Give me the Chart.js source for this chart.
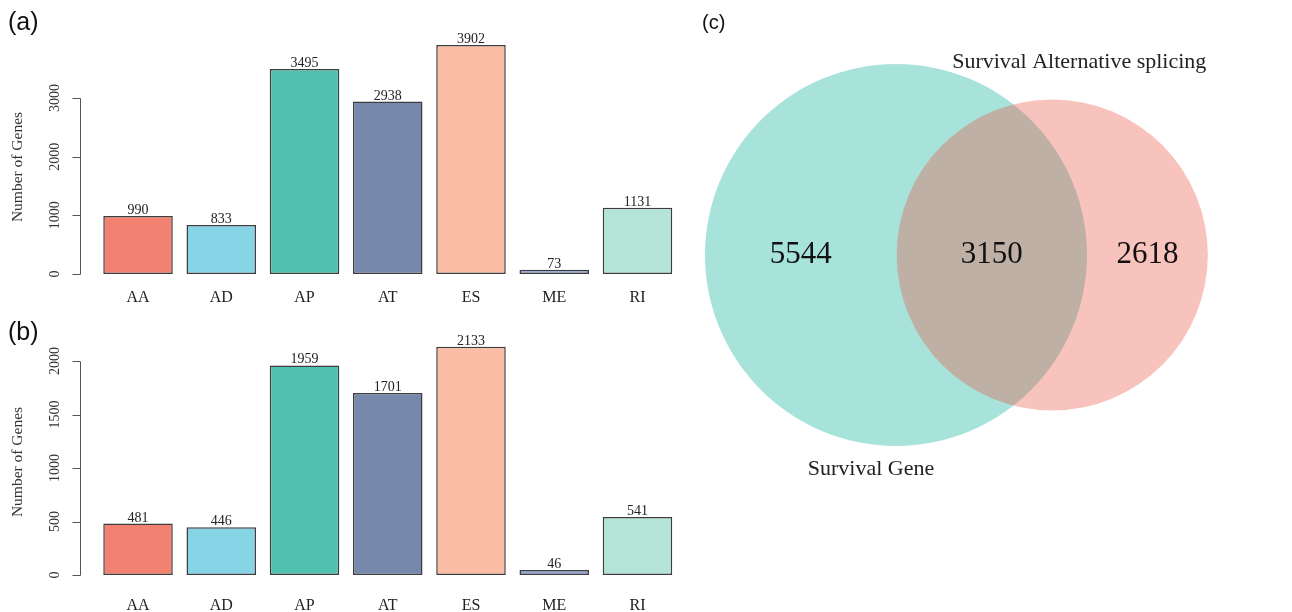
<!DOCTYPE html>
<html>
<head>
<meta charset="utf-8">
<script src="https://cdn.jsdelivr.net/npm/chart.js@4.4.1/dist/chart.umd.min.js"></script>
<style>
  body { margin: 0; background: #fff; width: 1292px; height: 612px; position: relative; overflow: hidden; }
  canvas { position: absolute; }
  .tag { position: absolute; font-family: "Liberation Sans", Arial, sans-serif; color: #111; line-height: 1; }
</style>
</head>
<body>

<canvas id="chartA" width="690" height="306" style="left:0;top:0"></canvas>
<canvas id="chartB" width="690" height="306" style="left:0;top:306px"></canvas>
<canvas id="chartC" width="602" height="612" style="left:690px;top:0"></canvas>

<div class="tag" style="left:8px;top:9px;font-size:25px">(a)</div>
<div class="tag" style="left:8px;top:319px;font-size:25px">(b)</div>
<div class="tag" style="left:702px;top:12px;font-size:20px">(c)</div>

<script>

// data
var categories = ['AA', 'AD', 'AP', 'AT', 'ES', 'ME', 'RI']
var countsA = [990, 833, 3495, 2938, 3902, 73, 1131]
var countsB = [481, 446, 1959, 1701, 2133, 46, 541]
var yTicksA = [0, 1000, 2000, 3000]
var yTicksB = [0, 500, 1000, 1500, 2000]
var barColors = ['#f38172', '#87d4e6', '#4fc1ae', '#7689ad', '#fbbda6', '#8d9fd1', '#b4e4d7']

var vennNames = ['Survival Gene', 'Survival Alternative splicing']
var vennOnly = [5544, 2618]
var vennBoth = 3150

var serif = '"Liberation Serif", "Times New Roman", serif'

// R style y axis: line only over the tick range, rotated labels
function rAxis(ticks, titleY) {
    return {
        id: 'rAxis',
        afterDraw: function (chart) {
            var ctx = chart.ctx
            var y = chart.scales.y
            var ax = 80.5
            ctx.save()
            ctx.strokeStyle = '#555'
            ctx.lineWidth = 1
            ctx.beginPath()
            ctx.moveTo(ax, Math.round(y.getPixelForValue(ticks[0])) + 0.5)
            ctx.lineTo(ax, Math.round(y.getPixelForValue(ticks[ticks.length - 1])) + 0.5)
            ticks.forEach(function (t) {
                var py = Math.round(y.getPixelForValue(t)) + 0.5
                ctx.moveTo(ax, py)
                ctx.lineTo(ax - 8, py)
            })
            ctx.stroke()
            ctx.fillStyle = '#333'
            ctx.font = '14px ' + serif
            ctx.textAlign = 'center'
            ctx.textBaseline = 'middle'
            ticks.forEach(function (t) {
                ctx.save()
                ctx.translate(55, y.getPixelForValue(t))
                ctx.rotate(-Math.PI / 2)
                ctx.fillText(String(t), 0, 0)
                ctx.restore()
            })
            ctx.font = '15.5px ' + serif
            ctx.translate(18, titleY)
            ctx.rotate(-Math.PI / 2)
            ctx.fillText('Number of Genes', 0, 0)
            ctx.restore()
        }
    }
}

var valueLabels = {
    id: 'valueLabels',
    afterDatasetsDraw: function (chart) {
        var ctx = chart.ctx
        var ds = chart.data.datasets[0]
        ctx.save()
        ctx.fillStyle = '#222'
        ctx.font = '14px ' + serif
        ctx.textAlign = 'center'
        ctx.textBaseline = 'alphabetic'
        chart.getDatasetMeta(0).data.forEach(function (bar, i) {
            ctx.fillText(String(ds.data[i]), bar.x, bar.y - 2)
        })
        ctx.restore()
    }
}

function barChart(id, counts, ticks, yMax, padTop, axisH, labelPad, titleY) {
    return new Chart(document.getElementById(id), {
        type: 'bar',
        data: {
            labels: categories,
            datasets: [{
                data: counts,
                backgroundColor: barColors,
                borderColor: 'rgba(40,40,40,0.9)',
                borderWidth: 1.5,
                borderSkipped: false,
                categoryPercentage: 1,
                barPercentage: 0.835
            }]
        },
        options: {
            responsive: false,
            animation: false,
            events: [],
            layout: { padding: { left: 96.4, right: 10.9, top: padTop, bottom: 0 } },
            plugins: { legend: { display: false }, tooltip: { enabled: false } },
            scales: {
                x: {
                    grid: { display: false, drawTicks: false },
                    border: { display: false },
                    ticks: { color: '#222', font: { family: serif, size: 16 }, padding: labelPad },
                    afterFit: function (s) { s.height = axisH }
                },
                y: { display: false, min: 0, max: yMax }
            }
        },
        plugins: [valueLabels, rAxis(ticks, titleY)]
    })
}

barChart('chartA', countsA, yTicksA, 4000, 39.3, 32, 14, 167)
barChart('chartB', countsB, yTicksB, 2400, 12.2, 37, 21, 156)

// venn: circle areas proportional to set sizes, distance found from the overlap
var sizeA = vennOnly[0] + vennBoth
var sizeB = vennOnly[1] + vennBoth
var rA = Math.sqrt(sizeA / Math.PI)
var rB = Math.sqrt(sizeB / Math.PI)

function overlap(d) {
    var a = rA * rA * Math.acos((d * d + rA * rA - rB * rB) / (2 * d * rA))
    var b = rB * rB * Math.acos((d * d + rB * rB - rA * rA) / (2 * d * rB))
    var c = 0.5 * Math.sqrt((-d + rA + rB) * (d + rA - rB) * (d - rA + rB) * (d + rA + rB))
    return a + b - c
}
var lo = Math.abs(rA - rB) + 1e-6, hi = rA + rB - 1e-6
for (var k = 0; k < 60; k++) {
    var mid = (lo + hi) / 2
    if (overlap(mid) > vennBoth) lo = mid; else hi = mid
}
var dist = (lo + hi) / 2
var radii = [rA, rB]

var pxPerUnit = 191 / rA
var cx0 = 206, cy0 = 255

var vennText = {
    id: 'vennText',
    afterDatasetsDraw: function (chart) {
        var ctx = chart.ctx
        var x = chart.scales.x, y = chart.scales.y
        var py = y.getPixelForValue(0)
        var spots = [(-rA + dist - rB) / 2, (dist - rB + rA) / 2, (rA + dist + rB) / 2]
        var nums = [vennOnly[0], vennBoth, vennOnly[1]]
        ctx.save()
        ctx.fillStyle = '#111'
        ctx.textAlign = 'center'
        ctx.textBaseline = 'middle'
        ctx.font = '31px ' + serif
        spots.forEach(function (s, i) {
            ctx.fillText(String(nums[i]), x.getPixelForValue(s), py)
        })
        ctx.font = '22px ' + serif
        ctx.fillStyle = '#222'
        var ax = x.getPixelForValue(0), bx = x.getPixelForValue(dist)
        var ra = x.getPixelForValue(rA) - ax, rb = x.getPixelForValue(rB) - x.getPixelForValue(0)
        ctx.fillText(vennNames[0], ax - 25, py + ra + 23)
        ctx.fillText(vennNames[1], bx + 27, py - rb - 37)
        ctx.restore()
    }
}

new Chart(document.getElementById('chartC'), {
    type: 'scatter',
    data: {
        datasets: [{
            data: [{ x: 0, y: 0 }, { x: dist, y: 0 }],
            backgroundColor: ['rgba(6,175,152,0.35)', 'rgba(235,84,66,0.35)'],
            borderWidth: 0,
            pointRadius: function (c) {
                var s = c.chart.scales.x
                return s.getPixelForValue(radii[c.dataIndex]) - s.getPixelForValue(0)
            },
            clip: false
        }]
    },
    options: {
        responsive: false,
        animation: false,
        events: [],
        layout: { padding: 0 },
        plugins: { legend: { display: false }, tooltip: { enabled: false } },
        scales: {
            x: { type: 'linear', display: false, min: -cx0 / pxPerUnit, max: (602 - cx0) / pxPerUnit },
            y: { type: 'linear', display: false, min: -(612 - cy0) / pxPerUnit, max: cy0 / pxPerUnit }
        }
    },
    plugins: [vennText]
})

</script>
</body>
</html>
